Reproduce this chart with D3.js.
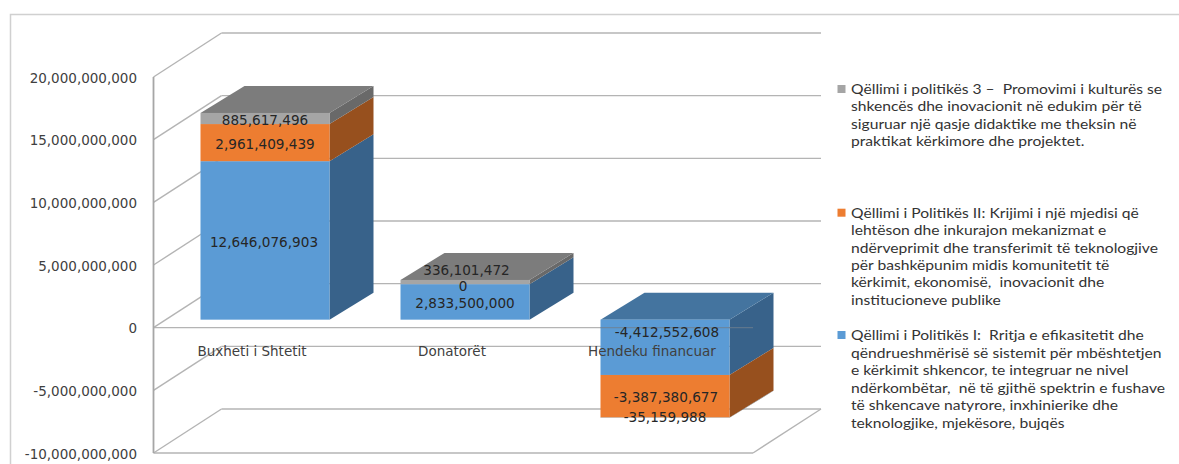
<!DOCTYPE html>
<html>
<head>
<meta charset="utf-8">
<script src="https://cdn.jsdelivr.net/npm/d3@7"></script>
<style>
  html, body { margin: 0; padding: 0; background: #fff; }
  svg { display: block; }
  text { font-family: "DejaVu Sans", sans-serif; fill: #333; }
  .legend text { font-family: Lato, sans-serif; font-size: 14.3px; }
</style>
</head>
<body>
<div id="chart"></div>
<script>
const categories = ["Buxheti i Shtetit", "Donatorët", "Hendeku financuar"];
const goalOne = [12646076903, 2833500000, -4412552608];
const goalTwo = [2961409439, 0, -3387380677];
const goalThree = [885617496, 336101472, -35159988];
const yTicks = [-10000000000, -5000000000, 0, 5000000000, 10000000000, 15000000000, 20000000000];
const seriesNames = ["one", "two", "three"];

const legendOne = ["Qëllimi i Politikës I:  Rritja e efikasitetit dhe", "qëndrueshmërisë së sistemit për mbështetjen", "e kërkimit shkencor, te integruar ne nivel", "ndërkombëtar,  në të gjithë spektrin e fushave", "të shkencave natyrore, inxhinierike dhe", "teknologjike, mjekësore, bujqës"];
const legendTwo = ["Qëllimi i Politikës II: Krijimi i një mjedisi që", "lehtëson dhe inkurajon mekanizmat e", "ndërveprimit dhe transferimit të teknologjive", "për bashkëpunim midis komunitetit të", "kërkimit, ekonomisë,  inovacionit dhe", "institucioneve publike"];
const legendThree = ["Qëllimi i politikës 3 –  Promovimi i kulturës se", "shkencës dhe inovacionit në edukim për të", "siguruar një qasje didaktike me theksin në", "praktikat kërkimore dhe projektet."];

const width = 1179, height = 464;
const wallDx = 68, wallDy = -44;   // side wall depth
const barDx = 44, barDy = -27;     // bar depth
const barLift = -8;                // bars sit a bit behind the front plane
const gridRight = 821;
const frontRight = 753;

const colors = {
    one: { front: "#5b9bd5", side: "#38628a", top: "#44749f" },
    two: { front: "#ed7d31", side: "#97501e", top: "#a85a24" },
    three: { front: "#a5a5a5", side: "#696969", top: "#7c7c7c" }
};

const numFormat = v => d3.format(",")(v).replace("−", "-");

const y = d3.scaleLinear().domain([-10000000000, 20000000000]).range([453, 77]);
const x = d3.scaleBand().domain(categories).range([165, 765]).paddingInner(0.355).paddingOuter(0.1775);

const svg = d3.select("#chart").append("svg")
    .attr("width", width)
    .attr("height", height);

// chart frame, open on the right and at the bottom
svg.append("path")
    .attr("d", "M10.5,464V14.5H1179")
    .attr("fill", "none")
    .attr("stroke", "#d0d0d0")
    .attr("stroke-width", 1.5);

const walls = svg.append("g").attr("stroke", "#b4b4b4").attr("stroke-width", 1.4).attr("fill", "none");

walls.selectAll(".diag")
    .data(yTicks)
    .enter().append("line")
    .attr("x1", 153.5).attr("y1", d => y(d))
    .attr("x2", 153.5 + wallDx).attr("y2", d => y(d) + wallDy);

walls.selectAll(".back")
    .data(yTicks)
    .enter().append("line")
    .attr("x1", 153.5 + wallDx).attr("y1", d => y(d) + wallDy)
    .attr("x2", gridRight).attr("y2", d => y(d) + wallDy);

// floor at the bottom of the scale
walls.append("line")
    .attr("x1", 153.5).attr("y1", y(-10000000000))
    .attr("x2", frontRight).attr("y2", y(-10000000000));
walls.append("line")
    .attr("x1", frontRight).attr("y1", y(-10000000000))
    .attr("x2", gridRight).attr("y2", y(-10000000000) + wallDy);
walls.append("line")
    .attr("x1", 153.5).attr("y1", y(0))
    .attr("x2", frontRight).attr("y2", y(0));
walls.append("line")
    .attr("x1", 153.5).attr("y1", y(20000000000))
    .attr("x2", 153.5).attr("y2", y(-10000000000))
    .attr("stroke", "#a6a6a6")
    .attr("stroke-width", 1.8);

const yAxis = d3.axisLeft(y)
    .tickValues(yTicks)
    .tickFormat(numFormat)
    .tickSize(0)
    .tickPadding(16.5);

const axisG = svg.append("g")
    .attr("transform", "translate(153.5,1)")
    .call(yAxis);
axisG.select(".domain").remove();
axisG.selectAll("text").attr("font-size", 13.5).style("fill", "#404040");
axisG.attr("font-family", null);

// stack the series, positives upward and negatives downward
const rows = categories.map((c, i) => ({ category: c, one: goalOne[i], two: goalTwo[i], three: goalThree[i] }));
const stacked = d3.stack().keys(seriesNames).offset(d3.stackOffsetDiverging)(rows);

const yBar = v => y(v) + barLift;

const bars = svg.append("g");
categories.forEach((c, i) => {
    const left = x(c), right = left + x.bandwidth();
    const segs = stacked.map(s => ({ key: s.key, lo: s[i][0], hi: s[i][1] })).filter(s => s.lo !== s.hi);
    const g = bars.append("g");

    g.selectAll(".side")
        .data(segs)
        .enter().append("path")
        .attr("fill", d => colors[d.key].side)
        .attr("d", d => `M${right},${yBar(d.hi)}L${right + barDx},${yBar(d.hi) + barDy}L${right + barDx},${yBar(d.lo) + barDy}L${right},${yBar(d.lo)}Z`);

    // the lid takes the colour of whichever segment is on top
    const topVal = d3.max(segs, s => s.hi);
    const topSeg = segs.find(s => s.hi === topVal);
    g.append("path")
        .attr("fill", colors[topSeg.key].top)
        .attr("d", `M${left},${yBar(topVal)}L${left + barDx},${yBar(topVal) + barDy}L${right + barDx},${yBar(topVal) + barDy}L${right},${yBar(topVal)}Z`);

    g.selectAll(".front")
        .data(segs)
        .enter().append("rect")
        .attr("x", left)
        .attr("width", x.bandwidth())
        .attr("y", d => yBar(d.hi))
        .attr("height", d => yBar(d.lo) - yBar(d.hi))
        .attr("fill", d => colors[d.key].front);
});

// zero line shows faintly through the third bar
svg.append("line")
    .attr("x1", x(categories[2])).attr("y1", y(0))
    .attr("x2", frontRight).attr("y2", y(0))
    .attr("stroke", "#6f7f8f")
    .attr("stroke-width", 1.2)
    .attr("opacity", 0.7);

// category labels
svg.selectAll(".cat")
    .data(categories)
    .enter().append("text")
    .attr("x", d => x(d) + x.bandwidth() / 2 - 13)
    .attr("y", 356)
    .attr("text-anchor", "middle")
    .attr("font-size", 13.5)
    .style("fill", "#404040")
    .text(d => d);

// value labels, nudged by hand like the original chart
const labelNudge = {
    one: [[-1, 1.5], [0, 1], [2, -15.5]],
    two: [[0, 1.5], [-2, -33.3], [1, 0.5]],
    three: [[0, 1.5], [1.5, -12], [0, -0.5]]
};
const labels = [];
stacked.forEach(s => {
    s.forEach((d, i) => {
        const c = categories[i];
        const value = rows[i][s.key];
        labels.push({
            value,
            px: x(c) + x.bandwidth() / 2 + labelNudge[s.key][i][0],
            py: yBar((d[0] + d[1]) / 2) + labelNudge[s.key][i][1]
        });
    });
});
svg.selectAll(".val")
    .data(labels)
    .enter().append("text")
    .attr("x", d => d.px)
    .attr("y", d => d.py)
    .attr("dy", "0.36em")
    .attr("text-anchor", "middle")
    .attr("font-size", 13.6)
    .style("fill", "#262626")
    .text(d => numFormat(d.value));

// legend, the text is a little stretched sideways in the original
const legendBlocks = [
    { lines: legendThree, key: "three", top: 89, step: 17.5 },
    { lines: legendTwo, key: "two", top: 212.7, step: 17.4 },
    { lines: legendOne, key: "one", top: 335, step: 17.6 }
];
const legend = svg.append("g").attr("class", "legend");
legendBlocks.forEach(b => {
    legend.append("rect")
        .attr("x", 837.5).attr("y", b.top - 4)
        .attr("width", 8).attr("height", 8)
        .attr("fill", colors[b.key].front);
    legend.append("g")
        .attr("transform", "translate(851,0) scale(1.095,1)")
        .selectAll("text")
        .data(b.lines)
        .enter().append("text")
        .attr("y", (d, i) => b.top + i * b.step)
        .attr("dy", "0.35em")
        .style("white-space", "pre")
        .text(d => d);
});
</script>
</body>
</html>
